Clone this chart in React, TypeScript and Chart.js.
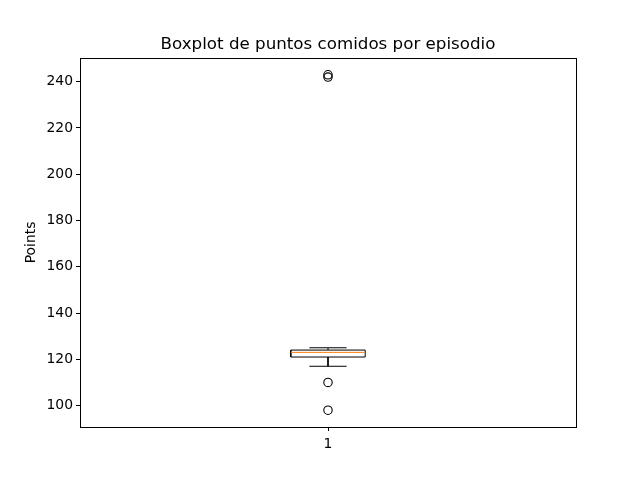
import React, { useEffect, useRef } from "react";
import { Chart, registerables } from "chart.js";

Chart.register(...registerables);

// ---- data ----
const categories = [1];
const whiskerLows = [117];
const q1s = [121];
const medians = [123];
const q3s = [124];
const whiskerHighs = [125];
const outliers = [[98, 110, 242, 243]];
const yTicks = [100, 120, 140, 160, 180, 200, 220, 240];
const xTickLabels = ["1"];

const TITLE = "Boxplot de puntos comidos por episodio";
const Y_TITLE = "Points";

const BOX_HALF = 0.075;
const CAP_HALF = 0.0375;
const FONT = "'DejaVu Sans', sans-serif";

const frame = {
  id: "frame",
  afterDraw(chart: any) {
    const { ctx, chartArea } = chart;
    ctx.save();
    ctx.strokeStyle = "#000";
    ctx.lineWidth = 1;
    ctx.strokeRect(
      Math.round(chartArea.left) + 0.5,
      Math.round(chartArea.top) + 0.5,
      Math.round(chartArea.right - chartArea.left),
      Math.round(chartArea.bottom - chartArea.top)
    );
    ctx.fillStyle = "#000";
    ctx.font = `16.7px ${FONT}`;
    ctx.textAlign = "center";
    ctx.textBaseline = "alphabetic";
    ctx.fillText(TITLE, (chartArea.left + chartArea.right) / 2, chartArea.top - 9);
    ctx.restore();
  },
};

export default function App() {
  const ref = useRef<HTMLCanvasElement | null>(null);

  useEffect(() => {
    if (!ref.current) return;
    const line = (data: { x: number; y: number }[], color = "#000", order = 1) => ({
      type: "scatter" as const,
      data,
      showLine: true,
      borderColor: color,
      borderWidth: 1,
      pointRadius: 0,
      fill: false,
      tension: 0,
      order,
    });
    const datasets: any[] = [];
    categories.forEach((c, i) => {
      datasets.push(
        line([
          { x: c - BOX_HALF, y: q1s[i] },
          { x: c + BOX_HALF, y: q1s[i] },
          { x: c + BOX_HALF, y: q3s[i] },
          { x: c - BOX_HALF, y: q3s[i] },
          { x: c - BOX_HALF, y: q1s[i] },
        ])
      );
      datasets.push(line([{ x: c, y: q1s[i] }, { x: c, y: whiskerLows[i] }]));
      datasets.push(line([{ x: c, y: q3s[i] }, { x: c, y: whiskerHighs[i] }]));
      datasets.push(line([{ x: c - CAP_HALF, y: whiskerLows[i] }, { x: c + CAP_HALF, y: whiskerLows[i] }]));
      datasets.push(line([{ x: c - CAP_HALF, y: whiskerHighs[i] }, { x: c + CAP_HALF, y: whiskerHighs[i] }]));
      datasets.push(line([{ x: c - BOX_HALF, y: medians[i] }, { x: c + BOX_HALF, y: medians[i] }], "#ff7f0e", 0));
      datasets.push({
        type: "scatter",
        data: outliers[i].map((v) => ({ x: c, y: v })),
        showLine: false,
        pointRadius: 4.2,
        pointStyle: "circle",
        pointBackgroundColor: "rgba(0,0,0,0)",
        pointBorderColor: "#000",
        pointBorderWidth: 1.1,
        order: 0,
      });
    });

    const chart = new Chart(ref.current, {
      type: "scatter",
      data: { datasets },
      options: {
        animation: false,
        responsive: false,
        devicePixelRatio: 1,
        layout: { padding: { left: 0, right: 64, top: 58, bottom: 0 } },
        plugins: {
          legend: { display: false },
          tooltip: { enabled: false },
          title: { display: false },
        },
        scales: {
          x: {
            type: "linear",
            min: 0.5,
            max: 1.5,
            afterBuildTicks: (s: any) => {
              s.ticks = categories.map((v) => ({ value: v }));
            },
            afterFit: (s: any) => {
              s.height = 53;
            },
            ticks: {
              color: "#000",
              font: { family: FONT, size: 13.9 },
              padding: 5,
              maxRotation: 0,
              callback: (v: any) => {
                const idx = categories.indexOf(Number(v));
                return idx >= 0 ? xTickLabels[idx] : null;
              },
            },
            grid: { display: true, drawOnChartArea: false, drawTicks: true, tickLength: 4, color: "#000" },
            border: { display: true, color: "#000", width: 1 },
          },
          y: {
            type: "linear",
            min: 90.75,
            max: 250.25,
            afterBuildTicks: (s: any) => {
              s.ticks = yTicks.map((v) => ({ value: v }));
            },
            afterFit: (s: any) => {
              s.width = 80;
            },
            title: {
              display: true,
              text: Y_TITLE,
              color: "#000",
              font: { family: FONT, size: 13.9 },
              padding: { top: 23, bottom: 0 },
            },
            ticks: {
              color: "#000",
              font: { family: FONT, size: 13.9 },
              padding: 3,
            },
            grid: { display: true, drawOnChartArea: false, drawTicks: true, tickLength: 4, color: "#000" },
            border: { display: true, color: "#000", width: 1 },
          },
        },
      },
      plugins: [frame],
    } as any);
    return () => chart.destroy();
  }, []);

  return (
    <div style={{ position: "absolute", left: 0, top: 0, width: 640, height: 480, background: "#fff" }}>
      <canvas ref={ref} width={640} height={480} style={{ width: 640, height: 480 }} />
    </div>
  );
}
